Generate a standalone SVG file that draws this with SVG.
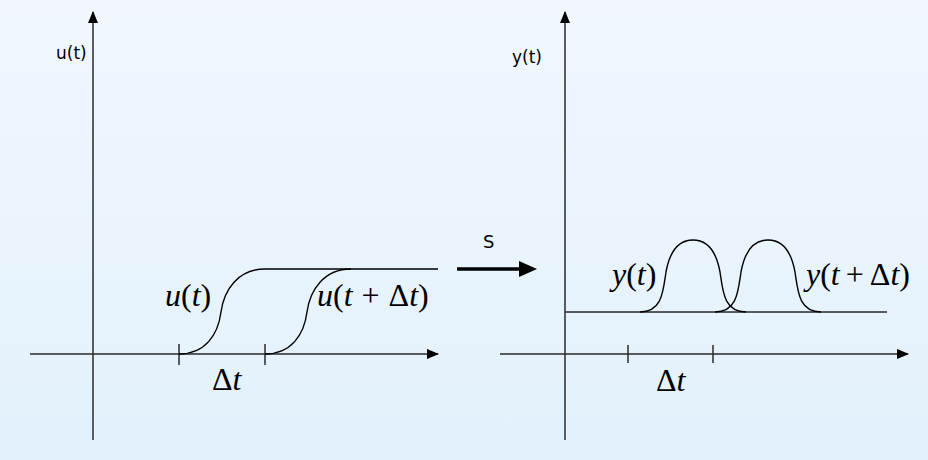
<svg xmlns="http://www.w3.org/2000/svg" width="928" height="460" viewBox="0 0 928 460">
<defs>
<linearGradient id="bg" x1="0" y1="0" x2="0" y2="1">
<stop offset="0" stop-color="#f1f7fd"/>
<stop offset="1" stop-color="#e2f1fc"/>
</linearGradient>
<marker id="ah" viewBox="0 0 12 10" refX="11" refY="5" markerWidth="12" markerHeight="10" markerUnits="userSpaceOnUse" orient="auto">
<path d="M0,0 L12,5 L0,10 Z" fill="#000"/>
</marker>
<path id="bump" d="M640,312 C 662,312 663,292 666,272 C 670,250 680,240 693,240 C 706,240 716,250 720,272 C 723,292 724,312 746,312"/>
</defs>
<style>
.axis{stroke:#2a2a2a;stroke-width:1.5;fill:none}
.curve{stroke:#000;stroke-width:1.4;fill:none}
.math{font-family:"Liberation Serif",serif;font-style:italic;font-size:32px;fill:#000}
.up{font-style:normal}
.lbl{font-family:"DejaVu Sans",Verdana,sans-serif;font-size:17px;fill:#000}
</style>
<rect x="0" y="0" width="928" height="460" fill="url(#bg)"/>
<g id="connectors">
<line class="axis" x1="93" y1="440" x2="93" y2="12" marker-end="url(#ah)"/>
<line class="axis" x1="30" y1="354" x2="438" y2="354" marker-end="url(#ah)"/>
<line class="axis" x1="179" y1="344" x2="179" y2="365"/>
<line class="axis" x1="265" y1="344" x2="265" y2="365"/>
<line class="axis" x1="565" y1="440" x2="565" y2="12" marker-end="url(#ah)"/>
<line class="axis" x1="500" y1="354" x2="908" y2="354" marker-end="url(#ah)"/>
<line class="axis" x1="628" y1="345" x2="628" y2="363"/>
<line class="axis" x1="713" y1="345" x2="713" y2="363"/>
<line class="axis" x1="565" y1="312" x2="887" y2="312"/>
<line x1="457" y1="269" x2="522" y2="269" stroke="#000" stroke-width="3.5"/>
<path d="M519,261 L537,269 L519,277 Z" fill="#000"/>
</g>
<g id="u-curves">
<path class="curve" d="M179,354 C 205,354 218,335 221,312 C 224,290 238,269 265,269 L 438,269"/>
<path class="curve" d="M265,354 C 291,354 304,335 307,312 C 310,290 324,269 351,269"/>
</g>
<g id="y-curves">
<use href="#bump" class="curve"/>
<use href="#bump" class="curve" transform="translate(75,0)"/>
</g>
<g id="labels">
<text class="lbl" x="56" y="59">u(t)</text>
<text class="lbl" x="512" y="63">y(t)</text>
<text class="lbl" x="483" y="248" style="font-size:18px">S</text>
<text class="math" x="165" y="306">u<tspan class="up">(</tspan>t<tspan class="up">)</tspan></text>
<text class="math" x="317" y="306">u<tspan class="up">(</tspan>t<tspan class="up" dx="9">+</tspan><tspan class="up" dx="9">Δ</tspan>t<tspan class="up">)</tspan></text>
<text class="math" x="212" y="390"><tspan class="up">Δ</tspan>t</text>
<text class="math" x="612" y="285">y<tspan class="up">(</tspan>t<tspan class="up">)</tspan></text>
<text class="math" x="806" y="285">y<tspan class="up">(</tspan>t<tspan class="up" dx="6">+</tspan><tspan class="up" dx="6">Δ</tspan>t<tspan class="up">)</tspan></text>
<text class="math" x="656" y="391"><tspan class="up">Δ</tspan>t</text>
</g>
</svg>
